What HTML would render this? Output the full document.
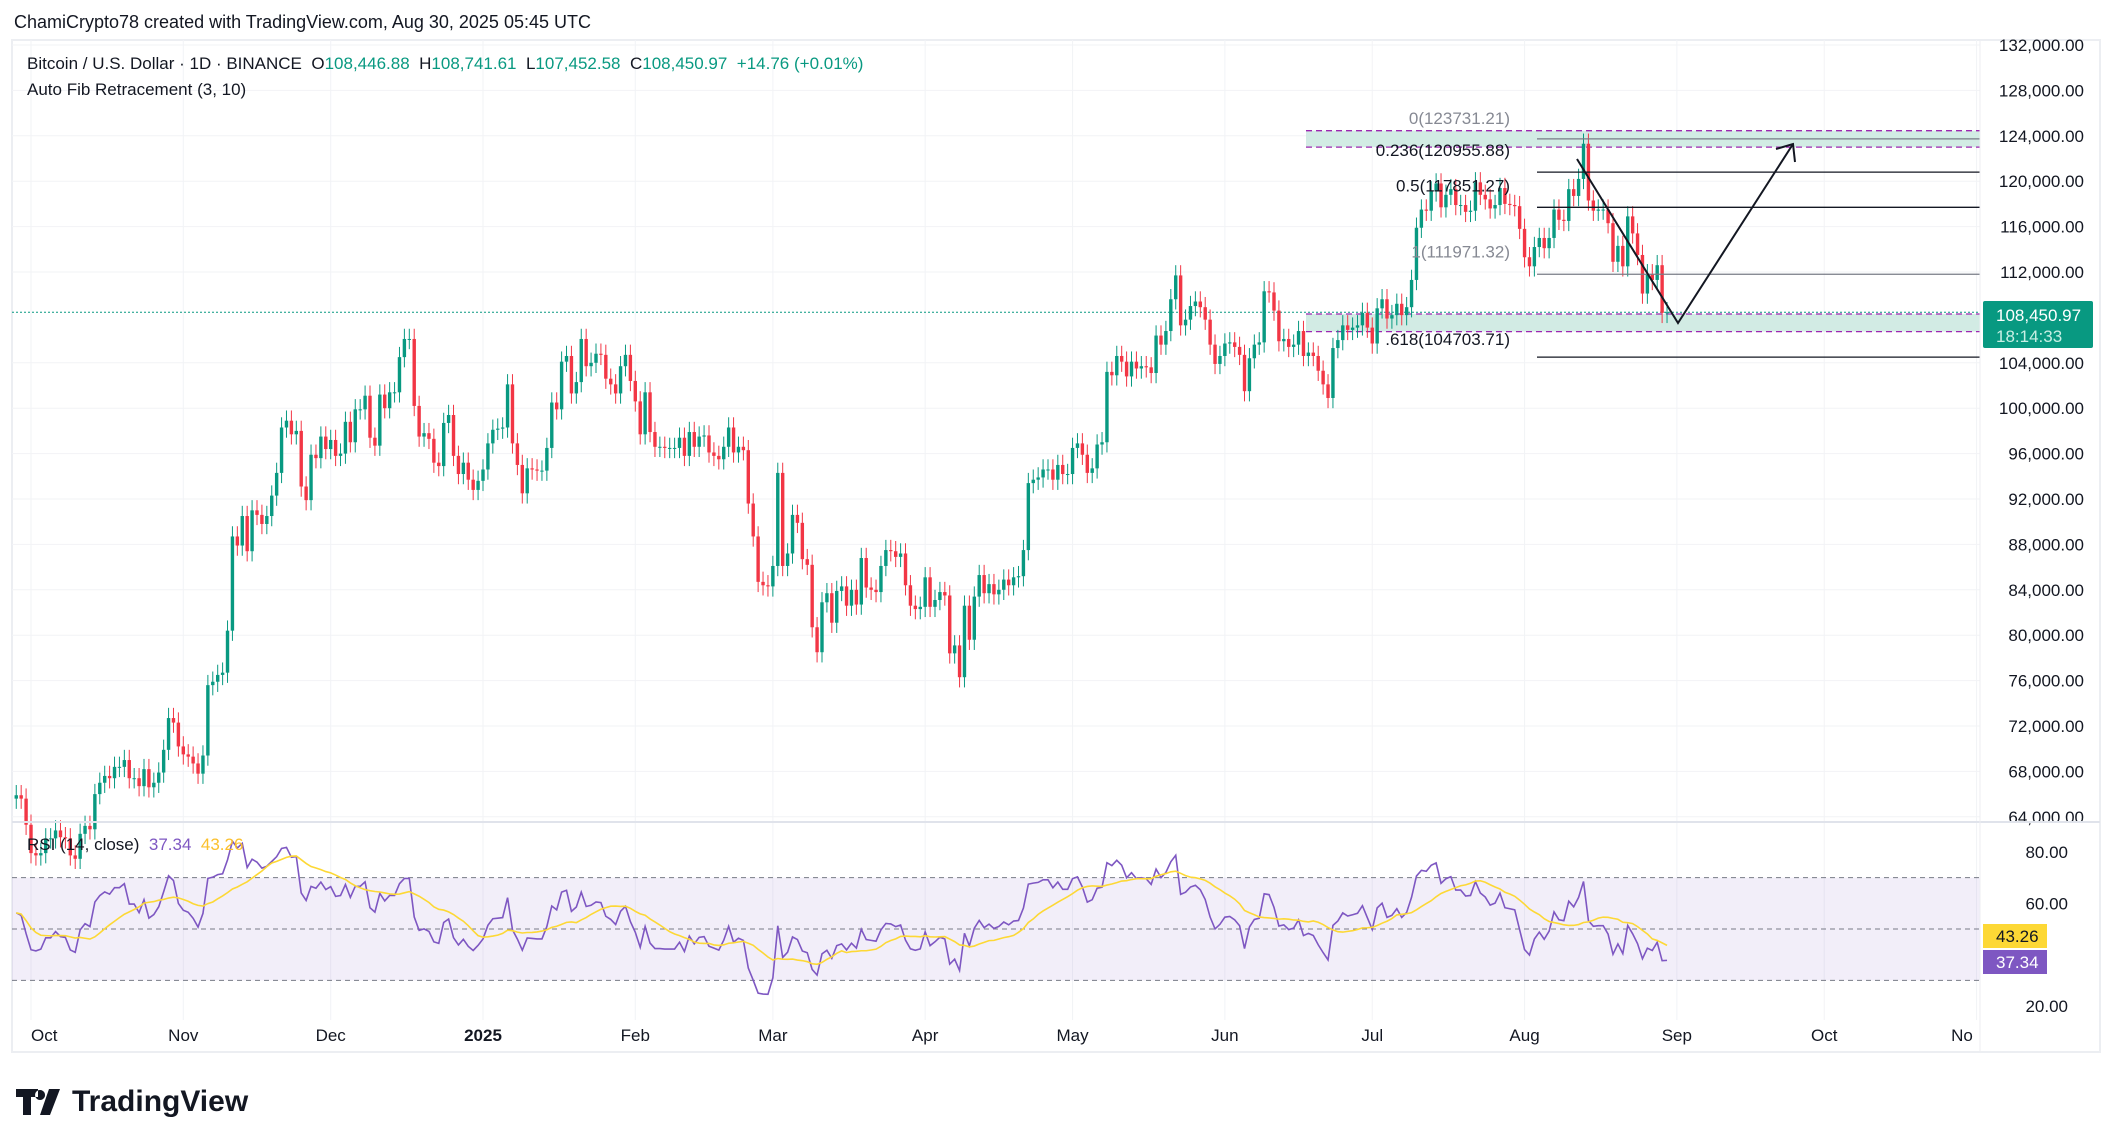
<!DOCTYPE html>
<html><head><meta charset="utf-8">
<style>
html,body{margin:0;padding:0;background:#fff;width:2114px;height:1145px;overflow:hidden;font-family:"Liberation Sans","DejaVu Sans",sans-serif;}
svg text{font-family:"Liberation Sans","DejaVu Sans",sans-serif;}
</style></head>
<body>
<svg id="chart" width="2114" height="1145" viewBox="0 0 2114 1145" xmlns="http://www.w3.org/2000/svg">
<rect x="0" y="0" width="2114" height="1145" fill="#fff"/>
<text x="14" y="28" font-size="18" fill="#131722">ChamiCrypto78 created with TradingView.com, Aug 30, 2025 05:45 UTC</text>
<rect x="12" y="40" width="2088" height="1012" fill="none" stroke="#eceef2" stroke-width="2"/>
<g id="grid"></g>
<g id="fibzones"></g>
<g id="candles"></g>
<g id="fib"></g>
<g id="rsi"></g>
<g id="axes"></g>
<line x1="12" y1="822" x2="2100" y2="822" stroke="#e0e3eb" stroke-width="2"/>
<line x1="1980" y1="40" x2="1980" y2="1052" stroke="#eceef2" stroke-width="1"/>
<text x="27" y="69" font-size="17" fill="#131722" xml:space="preserve">Bitcoin / U.S. Dollar · 1D · BINANCE  O<tspan fill="#089981">108,446.88</tspan>  H<tspan fill="#089981">108,741.61</tspan>  L<tspan fill="#089981">107,452.58</tspan>  C<tspan fill="#089981">108,450.97</tspan>  <tspan fill="#089981">+14.76 (+0.01%)</tspan></text>
<text x="27" y="95" font-size="17" fill="#131722">Auto Fib Retracement (3, 10)</text>
<text x="27" y="850" font-size="17" fill="#131722" xml:space="preserve">RSI (14, close)  <tspan fill="#7e57c2">37.34</tspan>  <tspan fill="#fbc02d">43.26</tspan></text>
<g>
<path d="M16 1089h22v8h-7v18h-8v-18h-7z M40 1090a5 5 0 1 0 0.1 0z M49 1089h11l-10 26h-10z" fill="#131722"/>
<text x="72" y="1111" font-size="30" font-weight="bold" fill="#131722">TradingView</text>
</g>
</svg>
<script>
// Daily closes (thousand USD), Sep 28 2024 .. Aug 30 2025
const closes=[65.9,65.6,63.3,
60.8,60.6,60.8,62.1,62.1,62.8,62.2,62.1,60.6,60.3,62.5,63.2,62.9,66.0,67.0,67.6,67.4,68.4,68.4,69.0,67.4,67.4,66.7,68.2,66.6,67.0,67.9,69.9,72.7,72.3,70.2,
69.5,69.3,68.7,67.8,69.4,75.6,75.9,76.5,76.7,80.4,88.7,87.9,90.5,87.4,91.0,90.6,89.8,90.5,92.3,94.3,98.3,98.9,97.7,98.0,93.1,91.9,95.9,95.6,97.5,96.4,
97.2,95.8,96.0,98.8,97.0,99.9,99.9,101.1,97.4,96.7,101.2,100.0,101.4,101.4,104.5,106.1,106.1,100.2,97.5,97.8,97.3,95.2,94.9,98.7,99.4,95.8,94.2,95.2,93.7,92.8,93.6,
94.6,96.9,98.1,98.2,98.3,102.1,96.9,95.0,92.5,94.7,94.6,94.5,94.5,96.5,100.5,99.9,104.1,104.6,101.3,102.3,106.1,103.7,104.0,104.8,104.7,102.6,102.1,101.3,103.7,104.7,102.4,
100.6,97.7,101.4,97.9,96.6,96.6,96.5,96.5,96.5,97.4,95.8,97.9,96.6,97.5,97.6,96.1,95.8,95.5,96.6,98.3,96.1,96.6,96.3,91.6,88.7,84.7,84.4,84.3,
86.1,94.3,86.1,87.2,90.6,89.9,86.7,86.2,80.7,78.5,82.9,83.7,81.1,83.9,84.3,82.6,84.0,82.7,86.8,84.2,84.0,83.8,86.1,87.5,87.4,86.9,87.2,84.4,82.6,82.3,82.5,
85.1,82.5,83.1,83.8,83.5,78.4,79.1,76.3,82.6,79.6,83.4,85.3,83.7,84.5,83.6,84.0,84.9,84.4,85.1,85.2,87.5,93.4,93.7,93.9,94.6,94.6,93.7,95.0,94.2,94.2,
96.5,96.9,95.9,94.3,94.7,96.8,97.0,103.2,102.9,104.6,104.1,102.8,104.1,103.5,103.7,103.6,103.1,106.4,105.6,106.8,109.6,111.7,107.3,107.8,109.0,109.4,108.9,107.8,105.6,103.9,104.6,
105.7,105.8,105.4,104.7,101.5,104.4,105.6,105.8,110.3,110.2,108.6,105.9,106.1,105.4,105.6,106.8,104.6,104.9,104.6,103.3,102.1,100.9,105.3,106.0,107.3,106.9,107.1,107.3,108.4,107.1,
105.7,108.8,109.6,107.9,108.2,109.2,108.2,108.9,111.3,115.9,117.5,117.4,119.1,119.8,117.7,118.8,119.3,117.9,117.9,117.3,117.4,119.9,118.8,118.4,117.6,117.9,119.4,118.0,117.9,117.8,115.8,
113.3,112.5,114.2,115.0,114.1,115.0,117.5,116.6,116.5,119.3,118.7,120.2,123.3,118.3,117.4,117.5,117.5,116.3,112.9,114.3,112.5,116.9,115.4,113.5,110.1,111.8,111.3,112.6,108.4,108.45];
const firstOpen=65.6;
const priceTicks=[132000,128000,124000,120000,116000,112000,104000,100000,96000,92000,88000,84000,80000,76000,72000,68000,64000];
const monthLabels=["Oct","Nov","Dec","2025","Feb","Mar","Apr","May","Jun","Jul","Aug","Sep","Oct","No"];
const monthDays=[0,31,61,92,123,151,182,212,243,273,304,335,365,396];
const fibLabelsTxt=["0(123731.21)","0.236(120955.88)","0.5(117851.27)",".618(104703.71)","1(111971.32)"];
const fibPrices=[123.73,120.8,117.7,104.5,111.8];
const rsiTicks=[80,60,20];

const NS="http://www.w3.org/2000/svg";
function mk(tag,attrs,parent,txt){const e=document.createElementNS(NS,tag);for(const k in attrs)e.setAttribute(k,attrs[k]);if(txt!==undefined)e.textContent=txt;parent.appendChild(e);return e;}
const X0=31, DX=4.913;
function xDay(d){return X0+d*DX;}
function xIdx(i){return xDay(i-3);}
function yP(k){return 45+(132-k)*45.4/4;}
function yR(r){return 929-(r-50)*2.57;}

const grid=document.getElementById('grid');
priceTicks.forEach(p=>{const l=mk('line',{x1:12,x2:1980,y1:yP(p/1000),y2:yP(p/1000),stroke:'#f2f3f6','stroke-width':1},grid);

});
monthDays.forEach(d=>{const x=xDay(d);if(x>1978)return;const l=mk('line',{x1:x,x2:x,y1:40,y2:1020,stroke:'#f2f3f6','stroke-width':1},grid);

});

const fz=document.getElementById('fibzones');
[[124.45,123.0],[108.3,106.75]].forEach(z=>{
 const r=mk('rect',{x:1306,y:yP(z[0]),width:1980-1306,height:yP(z[1])-yP(z[0]),fill:'#d2ebe4'},fz);
 
 
 [z[0],z[1]].forEach(v=>{const l=mk('line',{x1:1306,x2:1980,y1:yP(v),y2:yP(v),stroke:'#9c27b0','stroke-width':1.3,'stroke-dasharray':'6 4'},fz);
 
 });
});
const cp=mk('line',{x1:12,x2:1980,y1:yP(108.45),y2:yP(108.45),stroke:'#089981','stroke-width':1,'stroke-dasharray':'2 2'},fz);



const cg=document.getElementById('candles');
let prev=firstOpen;
closes.forEach((c,i)=>{
 const o=prev; prev=c;
 const up=c>=o, col=up?'#089981':'#f23645';
 const x=xIdx(i);
 const hi=Math.max(o,c)+0.9, lo=Math.min(o,c)-0.9;
 const w=mk('line',{x1:x,x2:x,y1:yP(hi),y2:yP(lo),stroke:col,'stroke-width':1},cg);
 
 
 const top=yP(Math.max(o,c)), bot=yP(Math.min(o,c));
 const b=mk('rect',{x:x-1.7,y:top,width:3.4,height:Math.max(1,bot-top),fill:col},cg);
 
 
});

const fg=document.getElementById('fib');
const fibOff=[-15,-16,-16,-12,-17];
fibPrices.forEach((p,i)=>{
 const gray=(i===0||i===4);
 const l=mk('line',{x1:1537,x2:1980,y1:yP(p),y2:yP(p),stroke:gray?'#787b86':'#131722','stroke-width':1.3},fg);
 
 
 const t=mk('text',{x:1510,y:yP(p)+fibOff[i],'font-size':17,'text-anchor':'end',fill:gray?'#868993':'#131722'},fg,fibLabelsTxt[i]);
 
 
});
const ar=mk('polyline',{points:'1577,159 1678,323 1793,144',fill:'none',stroke:'#131722','stroke-width':2},fg);


const ah=mk('polyline',{points:'1776,149 1793,144 1795,162',fill:'none',stroke:'#131722','stroke-width':2},fg);



const rg=document.getElementById('rsi');
const band=mk('rect',{x:12,y:yR(70),width:1968,height:yR(30)-yR(70),fill:'#7e57c2','fill-opacity':0.1},rg);


[70,50,30].forEach(v=>{const l=mk('line',{x1:12,x2:1980,y1:yR(v),y2:yR(v),stroke:'#787b86','stroke-width':1,'stroke-dasharray':'5 4'},rg);

});
const all=[firstOpen].concat(closes);
const rsi=[];let ag=0.75,al=0.6;
for(let i=1;i<all.length;i++){const d=all[i]-all[i-1];const g=Math.max(d,0),l=Math.max(-d,0);
 ag=(ag*13+g)/14;al=(al*13+l)/14;
 rsi.push(al===0?100:100-100/(1+ag/al));}
const ma=rsi.map((v,i)=>{const s=rsi.slice(Math.max(0,i-13),i+1);return s.reduce((a,b)=>a+b,0)/s.length;});
const rp=mk('polyline',{points:rsi.map((v,i)=>xIdx(i)+','+yR(v)).join(' '),fill:'none',stroke:'#7e57c2','stroke-width':1.6},rg);


const mp=mk('polyline',{points:ma.map((v,i)=>xIdx(i)+','+yR(v)).join(' '),fill:'none',stroke:'#fdd835','stroke-width':1.6},rg);



const ax=document.getElementById('axes');
priceTicks.forEach(p=>{const t=mk('text',{x:2084,y:yP(p/1000)+6,'font-size':17,'text-anchor':'end',fill:'#131722'},ax,p.toLocaleString('en-US')+'.00');

});
const pl=mk('rect',{x:1983,y:301,width:110,height:47,rx:2,fill:'#089981'},ax);


const t1=mk('text',{x:1996,y:321,'font-size':17,fill:'#fff'},ax,'108,450.97');


const t2=mk('text',{x:1996,y:342,'font-size':17,fill:'#c8efe4'},ax,'18:14:33');


rsiTicks.forEach(v=>{const t=mk('text',{x:2068,y:yR(v)+6,'font-size':17,'text-anchor':'end',fill:'#131722'},ax,v.toFixed(2));

});
[['43.26','#fdd835','#131722',936],['37.34','#7e57c2','#fff',962]].forEach(a=>{
 const r=mk('rect',{x:1983,y:a[3]-12,width:64,height:24,fill:a[1]},ax);
 
 
 const t=mk('text',{x:1996,y:a[3]+6,'font-size':17,fill:a[2]},ax,a[0]);
 
 
});
monthLabels.forEach((m,i)=>{const x=xDay(monthDays[i]);const t=mk('text',{x:i===monthLabels.length-1?1962:x,y:1041,'font-size':17,'text-anchor':i===0?'start':'middle','font-weight':m==='2025'?'bold':'normal',fill:'#131722'},ax,m);

});
</script>
</body></html>
